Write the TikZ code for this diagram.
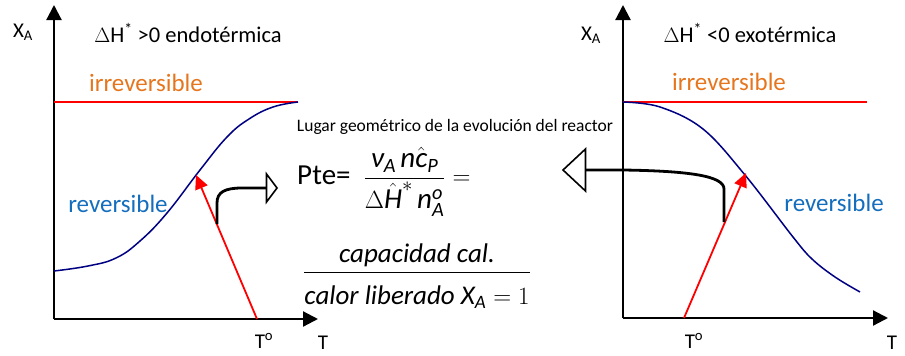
\documentclass[tikz,border=0pt]{standalone}
\usepackage{amsmath}
\usepackage{fontspec}
\setmainfont{Carlito}
\usetikzlibrary{arrows.meta}
\definecolor{orng}{RGB}{230,118,30}
\definecolor{revblue}{RGB}{20,110,190}
\definecolor{navyc}{RGB}{0,0,130}
\newcommand{\mi}[1]{\text{\itshape #1}}
\begin{document}
\begin{tikzpicture}[x=1pt,y=-1pt,
  axis/.style={line width=2.2pt,-{Triangle[length=15pt,width=15pt]}},
  irrev/.style={red,line width=1.8pt},
  rev/.style={navyc,line width=1.5pt},
  path/.style={red,line width=1.8pt,-{Triangle[length=14pt,width=13pt]}},
  openarrow/.style={line width=2.8pt},
  lbl/.style={font=\fontsize{21}{25}\selectfont},
  ttl/.style={font=\fontsize{22.5}{27}\selectfont},
  orlbl/.style={orng,font=\fontsize{25}{30}\selectfont},
  bllbl/.style={revblue,font=\fontsize{25}{30}\selectfont},
  formula/.style={font=\fontsize{29}{34}\selectfont,inner sep=0pt},
  formulab/.style={font=\fontsize{27}{32}\selectfont,inner sep=0pt}]
\useasboundingbox (0,0) rectangle (905,356);
% ---------- left plot ----------
\coordinate (lo) at (54,319);
\coordinate (ly) at (54,5);
\coordinate (lx) at (318,319);
\draw[axis] (lo) -- (ly);
\draw[axis] (lo) -- (lx);
\coordinate (li1) at (54,102);
\coordinate (li2) at (298,102);
\draw[irrev] (li1) -- (li2);
\draw[rev] plot[smooth,tension=0.7] coordinates {(54,271) (88,266) (116,258) (140,241) (167,213) (200,170) (227,137) (249,119) (273,107) (298,102)};
\coordinate (lp0) at (257,319);
\coordinate (lp1) at (196,175);
\draw[path] (lp0) -- (lp1);
\coordinate (lc0) at (217,224);
\coordinate (lc1) at (277,188);
\draw[openarrow] (lc0) -- (217,203) .. controls (217,192) and (225,188) .. (242,188) -- (266,188);
\draw[line width=1.6pt,fill=white,line join=miter] (266.5,174) -- (lc1) -- (266.5,202) -- cycle;
\node[lbl] (lxa) at (23,32) {X\textsubscript{A}};
\node[ttl] (ltitle) at (188,33) {$\Delta$H\textsuperscript{*} >0 endotérmica};
\node[orlbl] (lirr) at (146,83) {irreversible};
\node[bllbl] (lrev) at (118,204) {reversible};
\node[lbl] (lto) at (264,341) {T\textsuperscript{o}};
\node[lbl] (lt) at (323,343) {T};
% ---------- right plot ----------
\coordinate (ro) at (623,318);
\coordinate (ry) at (623,5);
\coordinate (rx) at (888,318);
\draw[axis] (ro) -- (ry);
\draw[axis] (ro) -- (rx);
\coordinate (ri1) at (623,102);
\coordinate (ri2) at (867,102);
\draw[irrev] (ri1) -- (ri2);
\draw[rev] plot[smooth,tension=0.6] coordinates {(623,102) (660,107) (703,129) (745,175) (793,237) (812,259) (835,277) (860,292)};
\coordinate (rp0) at (684,318);
\coordinate (rp1) at (746,173);
\draw[path] (rp0) -- (rp1);
\coordinate (rc0) at (724,222);
\coordinate (rc1) at (563,170);
\draw[openarrow] (rc0) -- (724,189) .. controls (724,176) and (690,171) .. (623,170) -- (586,170);
\draw[line width=1.6pt,fill=white,line join=miter] (585.5,149) -- (rc1) -- (585.5,191) -- cycle;
\node[lbl] (rxa) at (591,35) {X\textsubscript{A}};
\node[ttl] (rtitle) at (750,33) {$\Delta$H\textsuperscript{*} <0 exotérmica};
\node[orlbl] (rirr) at (729,82) {irreversible};
\node[bllbl] (rrev) at (834,203) {reversible};
\node[lbl] (rto) at (694,341) {T\textsuperscript{o}};
\node[lbl] (rt) at (892,343) {T};
% ---------- middle text ----------
\node[font=\fontsize{17.5}{21}\selectfont] (lugar) at (455,127) {Lugar geométrico de la evolución del reactor};
\node[formula,anchor=west] (pte) at (297,182) {Pte=\ \ $\displaystyle\frac{\mi{ν}_{\mi{A}}\,\mi{n}\hat{\mi{c}}_{\mi{P}}}{\Delta\hat{\mi{H}}^{*}\,\mi{n}_{\mi{A}}^{\mi{o}}}=$};
\node[formulab] (capa) at (417,276) {$\displaystyle\frac{\mi{capacidad cal.}\rule[-0.25em]{0pt}{0pt}}{\rule{0pt}{1.05em}\mi{calor liberado }\mi{X}_{\mi{A}}=1}$};
\end{tikzpicture}
\end{document}
